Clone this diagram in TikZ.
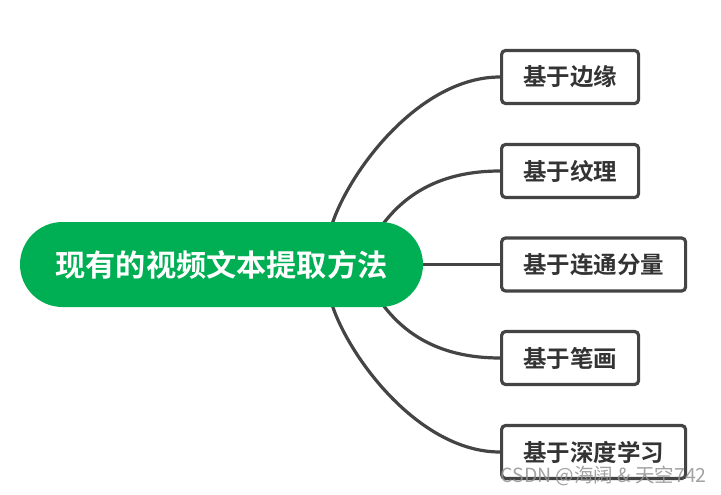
\documentclass[tikz,border=0pt]{standalone}
\usepackage{fontspec}
\setmainfont{Noto Sans CJK SC}
\newfontfamily\cjkbold[BoldFont={* Bold}]{Noto Sans CJK SC}
\usetikzlibrary{calc,backgrounds}
\definecolor{pillgreen}{RGB}{0,174,83}
\definecolor{linegray}{RGB}{68,68,68}
\definecolor{txtgray}{RGB}{51,51,51}
\tikzset{
  leaf/.style={draw=linegray, line width=3.2pt, rounded corners=4pt, fill=white,
    anchor=west, minimum height=53pt, inner xsep=21.5pt, inner ysep=0pt,
    text=txtgray, font=\cjkbold\bfseries\fontsize{23.5}{25}\selectfont},
  link/.style={draw=linegray, line width=3.2pt},
  root/.style={fill=pillgreen, rounded corners=42.5pt, minimum width=403pt,
    minimum height=85pt, inner sep=0pt, text=white,
    font=\cjkbold\bfseries\fontsize{30.2}{34}\selectfont},
}
\begin{document}
\begin{tikzpicture}[x=1pt,y=1pt]
\useasboundingbox (0,0) rectangle (721,-495);
\node[root] (c) at (221.5,-264.5) {现有的视频文本提取方法};
\node[leaf] (b1) at (500,-77) {基于边缘};
\node[leaf] (b2) at (500,-171) {基于纹理};
\node[leaf] (b3) at (500,-264.5) {基于连通分量};
\node[leaf] (b4) at (500,-358) {基于笔画};
\node[leaf] (b5) at (500,-452) {基于深度学习};
\coordinate (s1) at ($(c.north east)+(-91,-2)$);
\coordinate (s2) at ($(c.north east)+(-40,-2)$);
\coordinate (s4) at ($(c.south east)+(-40,2)$);
\coordinate (s5) at ($(c.south east)+(-91,2)$);
\begin{scope}[on background layer]
\fill[white] (0,0) rectangle (721,-495);
\draw[link] (s1) .. controls ($(s1)+(18,54)$) and ($(b1.west)+(-80,0)$) .. (b1.west);
\draw[link] (s2) .. controls ($(s2)+(22,29)$) and ($(b2.west)+(-60,0)$) .. (b2.west);
\draw[link] (c.east) -- (b3.west);
\draw[link] (s4) .. controls ($(s4)+(22,-29)$) and ($(b4.west)+(-60,0)$) .. (b4.west);
\draw[link] (s5) .. controls ($(s5)+(18,-54)$) and ($(b5.west)+(-80,0)$) .. (b5.west);
\end{scope}
\node[anchor=east, text=gray!85, font=\fontsize{19.5}{20}\selectfont, inner sep=0pt, opacity=0.85] (wm) at (707,-476) {CSDN @海阔 \& 天空742};
\end{tikzpicture}
\end{document}
